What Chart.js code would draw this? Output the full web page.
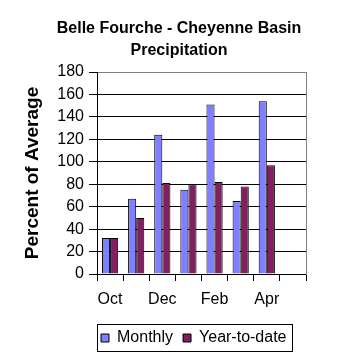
<!DOCTYPE html>
<html>
<head>
<meta charset="utf-8">
<script src="https://cdn.jsdelivr.net/npm/chart.js@4/dist/chart.umd.min.js"></script>
<style>
  html, body { margin: 0; padding: 0; background: #ffffff; }
  canvas { display: block; }
</style>
</head>
<body>
<canvas id="c" width="358" height="358"></canvas>
<script>
const titleLines = ['Belle Fourche - Cheyenne Basin', 'Precipitation'];
const yAxisTitle = 'Percent of Average';
const categories = ['Oct', 'Nov', 'Dec', 'Jan', 'Feb', 'Mar', 'Apr', 'May'];
const xTickLabels = ['Oct', '', 'Dec', '', 'Feb', '', 'Apr', ''];
const seriesNames = ['Monthly', 'Year-to-date'];
const monthly = [32, 67, 124, 75, 151, 65, 154, null];
const yearToDate = [32, 50, 81, 80, 82, 78, 97, null];
const yMin = 0, yMax = 180, yStep = 20;

const FONT = 'Arial, "Liberation Sans", sans-serif';

const tweak = {
  id: 'tweak',
  afterLayout(chart) {
    const lg = chart.legend;
    if (lg) {
      const h = lg.height;
      lg.left = 91;
      lg.right = 358;
      lg.top = 320;
      lg.bottom = 320 + h;
    }
  },
  afterDraw(chart) {
    const ctx = chart.ctx;
    ctx.save();
    ctx.strokeStyle = '#000000';
    ctx.lineWidth = 1;
    ctx.strokeRect(97.5, 324.5, 195, 27);
    ctx.restore();
  }
};

new Chart(document.getElementById('c'), {
  type: 'bar',
  data: {
    labels: categories,
    datasets: [
      { label: seriesNames[0], data: monthly, backgroundColor: '#8080FF', borderColor: '#000000', borderWidth: 1, yAxisID: 'y' },
      { label: seriesNames[1], data: yearToDate, backgroundColor: '#802060', borderColor: '#000000', borderWidth: 1, yAxisID: 'y' }
    ]
  },
  options: {
    responsive: false,
    animation: false,
    devicePixelRatio: 1,
    layout: { padding: { left: 0, right: 0, top: 0, bottom: 0 } },
    datasets: { bar: { categoryPercentage: 0.62, barPercentage: 1.0, borderSkipped: 'start' } },
    plugins: {
      title: {
        display: true,
        text: titleLines,
        color: '#000000',
        font: { family: FONT, size: 16, weight: 'bold', lineHeight: 1.375 },
        padding: { top: 18, bottom: 10 }
      },
      legend: {
        display: true,
        position: 'bottom',
        align: 'start',
        maxHeight: 30,
        labels: {
          color: '#000000',
          font: { family: FONT, size: 16 },
          boxWidth: 8,
          boxHeight: 8,
          padding: 10
        }
      },
      tooltip: { enabled: false }
    },
    scales: {
      x: {
        type: 'category',
        offset: true,
        grid: { display: true, drawOnChartArea: false, drawTicks: true, tickLength: 7, color: '#000000', offset: true },
        border: { display: true, color: '#000000', width: 1 },
        ticks: {
          autoSkip: false,
          maxRotation: 0,
          minRotation: 0,
          color: '#000000',
          font: { family: FONT, size: 16 },
          padding: 9,
          callback: (v, i) => xTickLabels[i]
        },
        afterFit: (s) => { s.height = 54; }
      },
      y: {
        type: 'linear',
        position: 'left',
        min: yMin,
        max: yMax,
        ticks: { stepSize: yStep, color: '#000000', font: { family: FONT, size: 16 }, padding: 5 },
        grid: {
          color: (c) => (c.tick && c.tick.value === yMax) ? '#808080' : '#000000',
          tickColor: '#000000',
          tickLength: 8,
          drawTicks: true
        },
        border: { display: true, color: '#000000', width: 1 },
        title: {
          display: true,
          text: yAxisTitle,
          color: '#000000',
          font: { family: FONT, size: 19, weight: 'bold' },
          padding: { top: 21, bottom: 0 }
        },
        afterFit: (s) => { s.width = 97; }
      },
      y2: {
        type: 'linear',
        position: 'right',
        min: yMin,
        max: yMax,
        display: true,
        grid: { display: false, drawOnChartArea: false, drawTicks: false },
        ticks: { display: false },
        border: { display: true, color: '#808080', width: 1 },
        afterFit: (s) => { s.width = 52; }
      }
    }
  },
  plugins: [tweak]
});
</script>
</body>
</html>
